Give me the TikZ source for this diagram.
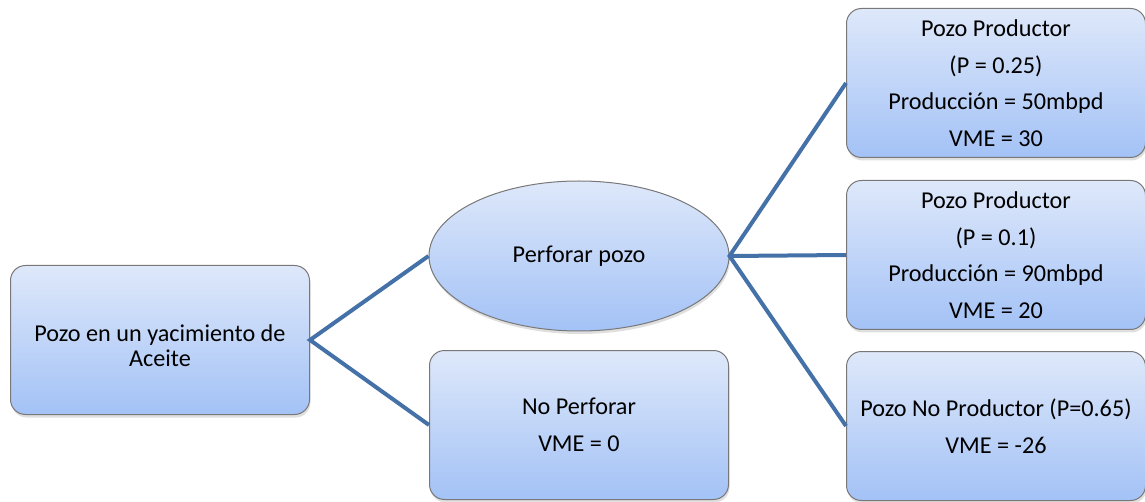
\documentclass[tikz,border=0pt]{standalone}
\usepackage{fontspec}
\setmainfont{Carlito}
\usepackage{tikz}
\usetikzlibrary{shapes.geometric, shadows}
\definecolor{BoxTop}{RGB}{222, 232, 250}
\definecolor{BoxBottom}{RGB}{163, 194, 246}
\definecolor{BoxEdge}{RGB}{120, 120, 120}
\definecolor{LinkBlue}{RGB}{68, 114, 168}

\begin{document}
\begin{tikzpicture}[x=1pt, y=-1pt,
    box/.style={draw=BoxEdge, line width=1pt, rounded corners=15pt,
        top color=BoxTop, bottom color=BoxBottom,
        minimum width=299pt, minimum height=149pt, align=center,
        font=\fontsize{24.2}{36.5}\selectfont,
        drop shadow={opacity=0.25, shadow xshift=1pt, shadow yshift=-3pt}},
    oval/.style={ellipse, draw=BoxEdge, line width=1pt,
        top color=BoxTop, bottom color=BoxBottom,
        minimum width=300pt, minimum height=150pt, inner sep=0pt,
        font=\fontsize{24.2}{29}\selectfont,
        drop shadow={opacity=0.25, shadow xshift=1pt, shadow yshift=-3pt}},
    link/.style={draw=LinkBlue, line width=4pt}]
    \useasboundingbox (0, 0) rectangle (1145, 502);

    % Root of the tree
    \node[box, font=\fontsize{24.2}{25}\selectfont, text height=54pt] (pozo) at (160, 340) {Pozo en un yacimiento de\\Aceite};

    % Decision
    \node[oval] (perforar) at (579, 256) {Perforar pozo};
    \node[box] (noperforar) at (579, 425) {No Perforar\\VME = 0};

    % Outcomes
    \node[box] (prod1) at (996, 83) {Pozo Productor\\(P = 0.25)\\Producción = 50mbpd\\VME = 30};
    \node[box] (prod2) at (996, 255) {Pozo Productor\\(P = 0.1)\\Producción = 90mbpd\\VME = 20};
    \node[box] (noprod) at (996, 426) {Pozo No Productor (P=0.65)\\VME = -26};

    % Branches
    \draw[link] (perforar.west) -- (pozo.east) -- (noperforar.west);
    \draw[link] (prod1.west) -- (perforar.east) -- (noprod.west);
    \draw[link] (perforar.east) -- (prod2.west);
\end{tikzpicture}
\end{document}
